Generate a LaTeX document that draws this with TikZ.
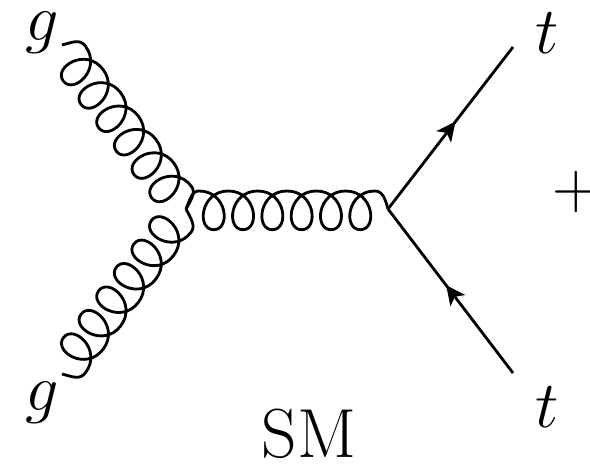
\documentclass[tikz,border=0pt]{standalone}
\usepackage{tikz}
\usetikzlibrary{arrows.meta,decorations,decorations.markings}
% one loop of a gluon per state, amplitude is the height of the outer arc
\pgfdeclaredecoration{gluoncoil}{initial}{
\state{initial}[width=0.5*\pgfdecoratedpathlength-3*\pgfdecorationsegmentlength, next state=loop]{
\pgfmathsetlengthmacro\gluonw{0.5*\pgfdecoratedpathlength-3*\pgfdecorationsegmentlength}
\pgfpathcurveto{\pgfpoint{.15\pgfdecorationsegmentlength}{.6\pgfdecorationsegmentamplitude}}{\pgfpoint{.2\pgfdecorationsegmentlength}{\pgfdecorationsegmentamplitude}}{\pgfpoint{\gluonw}{\pgfdecorationsegmentamplitude}}}
\state{loop}[width=\pgfdecorationsegmentlength]{
\pgfpathcurveto{\pgfpoint{.97\pgfdecorationsegmentlength}{\pgfdecorationsegmentamplitude}}{\pgfpoint{1.09\pgfdecorationsegmentlength}{-1.15\pgfdecorationsegmentamplitude}}{\pgfpoint{.5\pgfdecorationsegmentlength}{-1.15\pgfdecorationsegmentamplitude}}
\pgfpathcurveto{\pgfpoint{-.09\pgfdecorationsegmentlength}{-1.15\pgfdecorationsegmentamplitude}}{\pgfpoint{.03\pgfdecorationsegmentlength}{\pgfdecorationsegmentamplitude}}{\pgfpoint{\pgfdecorationsegmentlength}{\pgfdecorationsegmentamplitude}}}
\state{final}{
\pgfpathcurveto{\pgfpoint{.25\pgfdecorationsegmentlength}{\pgfdecorationsegmentamplitude}}{\pgfpoint{.35\pgfdecorationsegmentlength}{.6\pgfdecorationsegmentamplitude}}{\pgfpointdecoratedpathlast}}
}

\begin{document}
\begin{tikzpicture}[x=0.025cm, y=-0.025cm, font=\fontsize{24.88}{30}\selectfont]
\tikzset{gluon/.style={decorate, line width=2pt, decoration={gluoncoil, amplitude=0.45cm, segment length=0.7325cm}}, gluonb/.style={gluon, decoration={gluoncoil, amplitude=-0.45cm, segment length=0.7325cm}}, fermion/.style={line width=2pt, postaction={decorate}, decoration={markings, mark=at position #1 with {\arrow{Stealth[length=0.48cm, width=0.46cm, inset=0.12cm]}}}}, lab/.style={inner sep=0pt, scale=1.89, anchor=base}}
\useasboundingbox (0,0) rectangle (590,468);
\coordinate (g1) at (62,45);
\coordinate (g2) at (62,374);
\coordinate (vg) at (186,209);
\coordinate (vt) at (388,209);
\coordinate (t1) at (513,47);
\coordinate (t2) at (513,373);
\node[lab] (lg1) at (42,40) {$g$};
\node[lab] (lg2) at (42,410) {$g$};
\node[lab] (lt1) at (547,53) {$t$};
\node[lab] (lt2) at (547,427) {$t$};
\node[lab, anchor=center] (plus) at (576.5,192) {$+$};
\node[lab, scale=1.05] (sm) at (309,457) {SM};
\draw[gluon] (g1) -- (vg);
\draw[gluonb] (g2) -- (vg);
\draw[gluon] (vg) -- (vt);
\draw[fermion=0.54] (vt) -- (t1);
\draw[fermion=0.535] (t2) -- (vt);
\end{tikzpicture}
\end{document}
